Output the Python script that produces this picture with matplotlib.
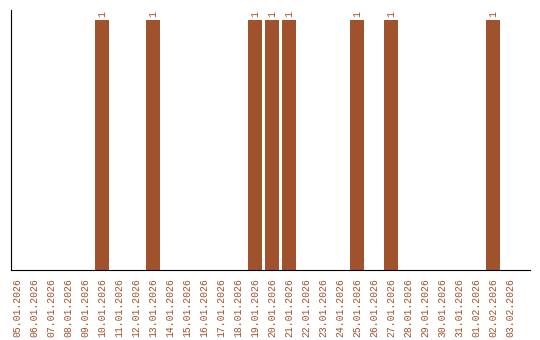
import matplotlib.pyplot as plt

dates = ["05.01.2026", "06.01.2026", "07.01.2026", "08.01.2026", "09.01.2026",
         "10.01.2026", "11.01.2026", "12.01.2026", "13.01.2026", "14.01.2026",
         "15.01.2026", "16.01.2026", "17.01.2026", "18.01.2026", "19.01.2026",
         "20.01.2026", "21.01.2026", "22.01.2026", "23.01.2026", "24.01.2026",
         "25.01.2026", "26.01.2026", "27.01.2026", "28.01.2026", "29.01.2026",
         "30.01.2026", "31.01.2026", "01.02.2026", "02.02.2026", "03.02.2026"]
counts = [0, 0, 0, 0, 0, 1, 0, 0, 1, 0, 0, 0, 0, 0, 1,
          1, 1, 0, 0, 0, 1, 0, 1, 0, 0, 0, 0, 0, 1, 0]

color = '#a0522d'
fig = plt.figure(figsize=(5.4, 3.4), dpi=100)
ax = fig.add_axes([11 / 540, 70 / 340, 519 / 540, 260 / 340])

x = list(range(len(dates)))
ax.bar(x, counts, width=0.82, color=color)
for xi, c in zip(x, counts):
    if c > 0:
        ax.text(xi, c + 0.012, str(c), rotation=90, ha='center', va='bottom',
                color=color, fontsize=7, family='Liberation Mono')

ax.set_xlim(-0.35, 30.18)
ax.set_ylim(0, 1.04)
ax.set_xticks(x)
ax.set_xticklabels(dates, rotation=90, color=color, fontsize=7, family='Liberation Mono')
ax.tick_params(axis='x', length=0, pad=6)
ax.set_yticks([])
ax.spines['top'].set_visible(False)
ax.spines['right'].set_visible(False)

fig.savefig('out.png', dpi=100)
